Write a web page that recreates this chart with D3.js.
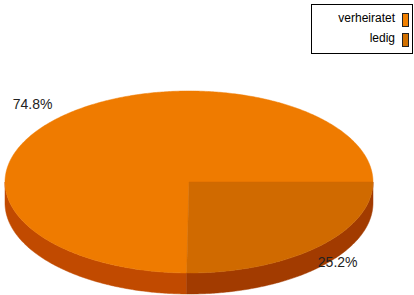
<!DOCTYPE html>
<html>
<head>
<meta charset="utf-8">
<script src="https://cdn.jsdelivr.net/npm/d3@7"></script>
<style>
  body { margin: 0; background: #fff; }
  svg { display: block; font-family: "Liberation Sans", Arial, sans-serif; }
</style>
</head>
<body>
<div id="chart"></div>
<script>
// data
const categories = ["verheiratet", "ledig"];
const values = [74.8, 25.2];
const labels = ["74.8%", "25.2%"];

const topColors = ["#ef7b00", "#d06a00"];
const sideColors = ["#c14a00", "#a23b00"];
const legendColors = ["#f08000", "#d07000"];

//set svg size
let w = 414;
let h = 295;
let cx = 189, cy = 182, rx = 184, ry = 91, depth = 21;

let svg = d3.select("#chart")
            .append("svg")
            .attr("width", w)
            .attr("height", h);

// start so that "ledig" begins at 3 o'clock and runs clockwise
let total = d3.sum(values);
let start = Math.PI / 2 - 2 * Math.PI * values[0] / total;
let pie = d3.pie().sort(null).startAngle(start).endAngle(start + 2 * Math.PI);
let arcs = pie(values);

// scales mapping the unit circle onto the tilted ellipse
let xScale = d3.scaleLinear().domain([-1, 1]).range([cx - rx, cx + rx]);
let yScale = d3.scaleLinear().domain([-1, 1]).range([cy - ry, cy + ry]);

// d3 angle (0 = 12 o'clock) -> point on ellipse
const pt = (a, dy = 0) => [xScale(Math.sin(a)), yScale(-Math.cos(a)) + dy];

const topPath = (a0, a1) => {
    let p = d3.path();
    p.moveTo(cx, cy);
    let n = Math.max(2, Math.ceil((a1 - a0) / 0.01));
    for (let i = 0; i <= n; i++) {
        let q = pt(a0 + (a1 - a0) * i / n);
        p.lineTo(q[0], q[1]);
    }
    p.closePath();
    return p.toString();
};

const sidePath = (a0, a1) => {
    let p = d3.path();
    let n = Math.max(2, Math.ceil((a1 - a0) / 0.01));
    let first = pt(a0);
    p.moveTo(first[0], first[1]);
    for (let i = 1; i <= n; i++) {
        let q = pt(a0 + (a1 - a0) * i / n);
        p.lineTo(q[0], q[1]);
    }
    for (let i = n; i >= 0; i--) {
        let q = pt(a0 + (a1 - a0) * i / n, depth);
        p.lineTo(q[0], q[1]);
    }
    p.closePath();
    return p.toString();
};

// side walls, only the front half (d3 angles PI/2 .. 3PI/2) is visible
let sides = svg.append("g");
arcs.forEach((d, i) => {
    let a0 = d.startAngle, a1 = d.endAngle;
    for (let k = -1; k <= 1; k++) {
        let lo = Math.max(a0, Math.PI / 2 + 2 * Math.PI * k);
        let hi = Math.min(a1, 3 * Math.PI / 2 + 2 * Math.PI * k);
        if (hi > lo) {
            sides.append("path")
                 .attr("d", sidePath(lo, hi))
                 .attr("fill", sideColors[i])
                 .attr("stroke", sideColors[i])
                 .attr("stroke-width", 0.5);
        }
    }
});

// top faces
svg.append("g")
   .selectAll("path")
   .data(arcs)
   .enter()
   .append("path")
   .attr("d", d => topPath(d.startAngle, d.endAngle))
   .attr("fill", (d, i) => topColors[i])
   .attr("stroke", (d, i) => topColors[i])
   .attr("stroke-width", 0.5);

// percent labels (front labels sit lower because of the wall)
const mid = d => (d.startAngle + d.endAngle) / 2;
const front = d => -Math.cos(mid(d)) > 0;
svg.append("g")
   .selectAll("text")
   .data(arcs)
   .enter()
   .append("text")
   .attr("x", d => xScale((front(d) ? 1.15 : 1.21) * Math.sin(mid(d))))
   .attr("y", d => yScale(-(front(d) ? 1.15 : 1.21) * Math.cos(mid(d))) + (front(d) ? 11 : 5))
   .attr("text-anchor", "middle")
   .attr("font-size", "14px")
   .attr("fill", "#222")
   .text((d, i) => labels[i]);

// legend
let legend = svg.append("g");
legend.append("rect")
      .attr("x", 311.5)
      .attr("y", 4.5)
      .attr("width", 101)
      .attr("height", 49)
      .attr("fill", "#fff")
      .attr("stroke", "#000");

let items = legend.selectAll("g")
                  .data(categories)
                  .enter()
                  .append("g")
                  .attr("transform", (d, i) => `translate(0, ${i * 20})`);

items.append("rect")
     .attr("x", 402.5)
     .attr("y", 13.5)
     .attr("width", 6)
     .attr("height", 13)
     .attr("fill", (d, i) => legendColors[i])
     .attr("stroke", "#222");

items.append("text")
     .attr("x", 395)
     .attr("y", 22)
     .attr("text-anchor", "end")
     .attr("font-size", "12px")
     .attr("fill", "#000")
     .text(d => d);
</script>
</body>
</html>
